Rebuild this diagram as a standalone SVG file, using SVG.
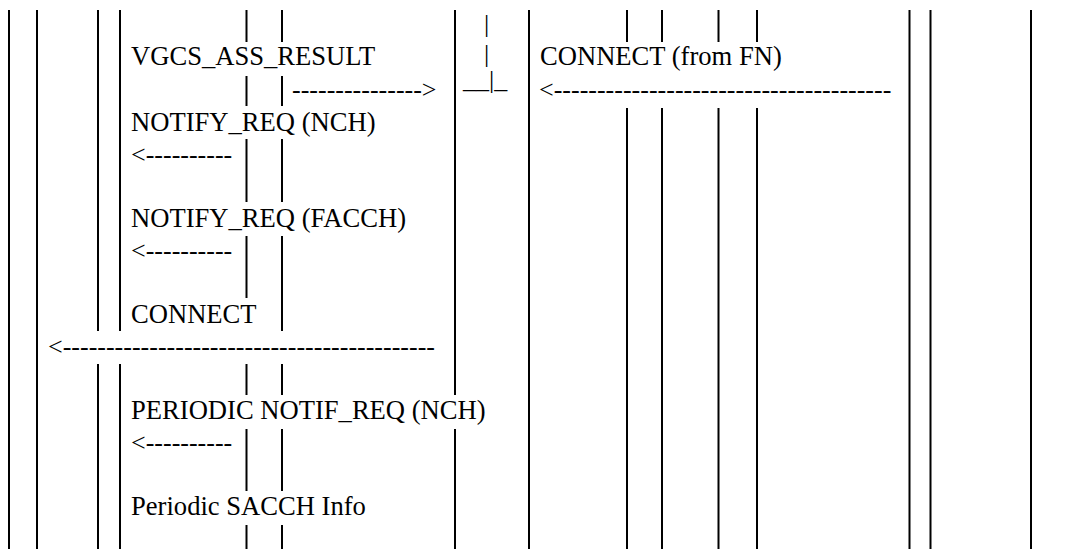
<svg xmlns="http://www.w3.org/2000/svg" width="1070" height="549" viewBox="0 0 1070 549">
<style>
.ln{stroke:#000;stroke-width:2;fill:none}
.t{font-family:"Liberation Serif","Times New Roman",serif;font-size:26px;fill:#000}
.w{font-size:26.6px}
</style>
<rect width="1070" height="549" fill="#fff"/>
<g id="connectors">
<g id="full-lines" class="ln">
<line x1="9" y1="10" x2="9" y2="549"/>
<line x1="37" y1="10" x2="37" y2="549"/>
<line x1="529" y1="10" x2="529" y2="549"/>
<line x1="909.5" y1="10" x2="909.5" y2="549"/>
<line x1="930.5" y1="10" x2="930.5" y2="549"/>
<line x1="1031" y1="10" x2="1031" y2="549"/>
</g>
<g id="lines-98-120" class="ln">
<line x1="98" y1="10" x2="98" y2="331"/>
<line x1="98" y1="364" x2="98" y2="549"/>
<line x1="120" y1="10" x2="120" y2="331"/>
<line x1="120" y1="364" x2="120" y2="549"/>
</g>
<g id="line-455" class="ln">
<line x1="455" y1="10" x2="455" y2="395"/>
<line x1="455" y1="429" x2="455" y2="549"/>
</g>
<g id="line-246" class="ln">
<line x1="246.5" y1="10" x2="246.5" y2="42"/>
<line x1="246.5" y1="76" x2="246.5" y2="106"/>
<line x1="246.5" y1="139" x2="246.5" y2="202"/>
<line x1="246.5" y1="236" x2="246.5" y2="298"/>
<line x1="246.5" y1="364" x2="246.5" y2="395"/>
<line x1="246.5" y1="429" x2="246.5" y2="491"/>
<line x1="246.5" y1="525" x2="246.5" y2="549"/>
</g>
<g id="line-282" class="ln">
<line x1="282" y1="10" x2="282" y2="42"/>
<line x1="282" y1="76" x2="282" y2="106"/>
<line x1="282" y1="139" x2="282" y2="202"/>
<line x1="282" y1="236" x2="282" y2="331"/>
<line x1="282" y1="364" x2="282" y2="395"/>
<line x1="282" y1="429" x2="282" y2="491"/>
<line x1="282" y1="525" x2="282" y2="549"/>
</g>
<g id="lines-right" class="ln">
<line x1="627" y1="10" x2="627" y2="42"/>
<line x1="627" y1="108" x2="627" y2="549"/>
<line x1="662" y1="10" x2="662" y2="42"/>
<line x1="662" y1="108" x2="662" y2="549"/>
<line x1="718.5" y1="10" x2="718.5" y2="42"/>
<line x1="718.5" y1="108" x2="718.5" y2="549"/>
<line x1="757" y1="10" x2="757" y2="42"/>
<line x1="757" y1="108" x2="757" y2="549"/>
</g>
</g>
<g id="msg-vgcs-ass-result">
<text class="t w" x="131" y="65">VGCS_ASS_RESULT</text>
<text class="t" x="292" y="98">---------------&gt;</text>
</g>
<g id="mid-marker">
<text class="t" x="484" y="31.5">|</text>
<text class="t" x="484" y="62">|</text>
<text class="t" x="463" y="87.5">__|_</text>
</g>
<g id="msg-connect-from-fn">
<text class="t w" x="540" y="65">CONNECT (from FN)</text>
<text class="t" x="539" y="98">&lt;---------------------------------------</text>
</g>
<g id="msg-notify-nch">
<text class="t w" x="131" y="130.5">NOTIFY_REQ (NCH)</text>
<text class="t" x="131" y="162.5">&lt;----------</text>
</g>
<g id="msg-notify-facch">
<text class="t w" x="131" y="226.5">NOTIFY_REQ (FACCH)</text>
<text class="t" x="131" y="258.5">&lt;----------</text>
</g>
<g id="msg-connect">
<text class="t w" x="131" y="322.5">CONNECT</text>
<text class="t" x="48" y="355">&lt;-------------------------------------------</text>
</g>
<g id="msg-periodic-notif">
<text class="t w" x="131" y="418.6">PERIODIC NOTIF_REQ (NCH)</text>
<text class="t" x="131" y="451">&lt;----------</text>
</g>
<g id="msg-periodic-sacch">
<text class="t w" x="131" y="515">Periodic SACCH Info</text>
</g>
</svg>
